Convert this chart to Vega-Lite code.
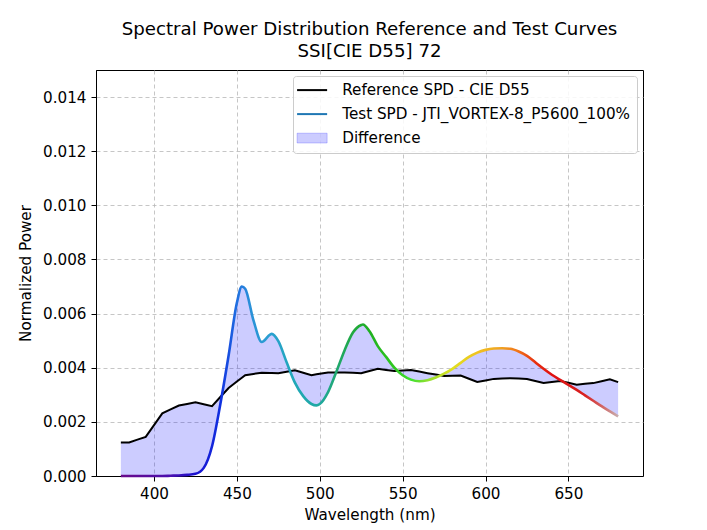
{
  "$schema": "https://vega.github.io/schema/vega-lite/v6.json",
  "width": 547,
  "height": 406,
  "autosize": {"type": "none"},
  "padding": {"left": 96, "top": 70, "right": 64, "bottom": 54},
  "background": "white",
  "title": {
    "text": ["Spectral Power Distribution Reference and Test Curves", "SSI[CIE D55] 72"],
    "font": "DejaVu Sans",
    "fontSize": 18.2,
    "fontWeight": "normal",
    "color": "black",
    "lineHeight": 22,
    "offset": 9,
    "anchor": "middle",
    "frame": "group"
  },
  "config": {
    "view": {"stroke": "black", "strokeWidth": 1},
    "axis": {
      "labelFont": "DejaVu Sans",
      "labelFontSize": 15.2,
      "labelColor": "black",
      "titleFont": "DejaVu Sans",
      "titleFontSize": 15.2,
      "titleFontWeight": "normal",
      "titleColor": "black",
      "tickColor": "black",
      "tickSize": 5,
      "tickWidth": 1,
      "domainColor": "black",
      "domainWidth": 1,
      "labelPadding": 5,
      "gridColor": "#b8b8b8",
      "gridDash": [4, 3],
      "gridWidth": 0.8
    },
    "legend": {
      "labelFont": "DejaVu Sans",
      "labelFontSize": 15.2,
      "labelColor": "black",
      "labelLimit": 400
    }
  },
  "data": {
    "values": [
      {"wl": 380, "ref": 0.001238, "test": 0.0},
      {"wl": 385, "ref": 0.001238, "test": 0.0},
      {"wl": 390, "ref": 0.001343, "test": 0.0},
      {"wl": 395, "ref": 0.001447, "test": 0.0},
      {"wl": 400, "ref": 0.001882, "test": 0.0},
      {"wl": 405, "ref": 0.002316, "test": 0.0},
      {"wl": 410, "ref": 0.002461, "test": 0.00001},
      {"wl": 415, "ref": 0.002605, "test": 0.00002},
      {"wl": 420, "ref": 0.002663, "test": 0.00004},
      {"wl": 425, "ref": 0.00272, "test": 0.00008},
      {"wl": 430, "ref": 0.002651, "test": 0.0003},
      {"wl": 435, "ref": 0.002581, "test": 0.0011},
      {"wl": 440, "ref": 0.002917, "test": 0.00265},
      {"wl": 445, "ref": 0.003253, "test": 0.00445},
      {"wl": 450, "ref": 0.003489, "test": 0.0064},
      {"wl": 453, "ref": 0.00363, "test": 0.007},
      {"wl": 455, "ref": 0.003724, "test": 0.00692},
      {"wl": 460, "ref": 0.003771, "test": 0.00575},
      {"wl": 465, "ref": 0.003817, "test": 0.00495},
      {"wl": 470, "ref": 0.003807, "test": 0.00522},
      {"wl": 471, "ref": 0.003805, "test": 0.00525},
      {"wl": 475, "ref": 0.003797, "test": 0.00498},
      {"wl": 480, "ref": 0.003851, "test": 0.0042},
      {"wl": 485, "ref": 0.003904, "test": 0.00345},
      {"wl": 490, "ref": 0.003816, "test": 0.00295},
      {"wl": 495, "ref": 0.003727, "test": 0.00266},
      {"wl": 498, "ref": 0.003757, "test": 0.00261},
      {"wl": 500, "ref": 0.003777, "test": 0.00266},
      {"wl": 505, "ref": 0.003826, "test": 0.0031},
      {"wl": 510, "ref": 0.003827, "test": 0.00385},
      {"wl": 515, "ref": 0.003827, "test": 0.00465},
      {"wl": 520, "ref": 0.003814, "test": 0.0053},
      {"wl": 525, "ref": 0.0038, "test": 0.00558},
      {"wl": 526, "ref": 0.003816, "test": 0.0056},
      {"wl": 530, "ref": 0.00388, "test": 0.00535},
      {"wl": 535, "ref": 0.00396, "test": 0.0048},
      {"wl": 540, "ref": 0.00392, "test": 0.0044},
      {"wl": 545, "ref": 0.00388, "test": 0.004},
      {"wl": 550, "ref": 0.003897, "test": 0.00372},
      {"wl": 555, "ref": 0.003913, "test": 0.00356},
      {"wl": 560, "ref": 0.003857, "test": 0.0035},
      {"wl": 565, "ref": 0.0038, "test": 0.00354},
      {"wl": 570, "ref": 0.003747, "test": 0.00364},
      {"wl": 575, "ref": 0.003694, "test": 0.00378},
      {"wl": 580, "ref": 0.003705, "test": 0.00396},
      {"wl": 585, "ref": 0.003715, "test": 0.00418},
      {"wl": 590, "ref": 0.003595, "test": 0.0044},
      {"wl": 595, "ref": 0.003474, "test": 0.00456},
      {"wl": 600, "ref": 0.003531, "test": 0.00466},
      {"wl": 605, "ref": 0.003588, "test": 0.00471},
      {"wl": 610, "ref": 0.003602, "test": 0.00472},
      {"wl": 615, "ref": 0.003615, "test": 0.0047},
      {"wl": 620, "ref": 0.003598, "test": 0.0046},
      {"wl": 625, "ref": 0.00358, "test": 0.00444},
      {"wl": 630, "ref": 0.003509, "test": 0.0042},
      {"wl": 635, "ref": 0.003437, "test": 0.00396},
      {"wl": 640, "ref": 0.003473, "test": 0.00374},
      {"wl": 645, "ref": 0.003509, "test": 0.00355},
      {"wl": 650, "ref": 0.003443, "test": 0.00337},
      {"wl": 655, "ref": 0.003376, "test": 0.00318},
      {"wl": 660, "ref": 0.003404, "test": 0.00298},
      {"wl": 665, "ref": 0.003432, "test": 0.00278},
      {"wl": 670, "ref": 0.003501, "test": 0.00258},
      {"wl": 675, "ref": 0.00357, "test": 0.00239},
      {"wl": 680, "ref": 0.00347, "test": 0.0022}
    ]
  },
  "encoding": {
    "x": {
      "field": "wl",
      "type": "quantitative",
      "scale": {"domain": [365, 695], "nice": false, "zero": false},
      "axis": {"values": [400, 450, 500, 550, 600, 650], "title": "Wavelength (nm)", "titlePadding": 6, "grid": true}
    }
  },
  "layer": [
    {
      "mark": {"type": "area", "interpolate": "monotone"},
      "encoding": {
        "y": {
          "field": "test",
          "type": "quantitative",
          "scale": {"domain": [0, 0.015], "nice": false},
          "axis": {"values": [0, 0.002, 0.004, 0.006, 0.008, 0.01, 0.012, 0.014], "format": ".3f", "title": "Normalized Power", "titlePadding": 9, "grid": true}
        },
        "y2": {"field": "ref"},
        "color": {
          "datum": "Difference",
          "scale": {
            "domain": ["Reference SPD - CIE D55", "Test SPD - JTI_VORTEX-8_P5600_100%", "Difference"],
            "range": ["black", "#1f77b4", "rgba(0,0,255,0.2)"]
          },
          "legend": {
            "title": null,
            "orient": "top-right",
            "offset": 6,
            "padding": 6.5,
            "rowPadding": 8,
            "symbolSize": 196,
            "labelOffset": 27.5,
            "fillColor": "rgba(255,255,255,0.85)",
            "strokeColor": "#cccccc",
            "cornerRadius": 3,
            "encode": {
              "symbols": {
                "update": {
                  "shape": {"signal": "datum.value === 'Difference' ? 'M-1.43,-0.7L2.86,-0.7L2.86,0.7L-1.43,0.7Z' : 'M-1.43,0L2.86,0'"},
                  "fill": {"signal": "datum.value === 'Difference' ? 'rgba(0,0,255,0.2)' : 'transparent'"},
                  "stroke": {"signal": "datum.value === 'Difference' ? 'rgba(0,0,255,0.2)' : (datum.value === 'Reference SPD - CIE D55' ? 'black' : '#1f77b4')"},
                  "strokeWidth": {"signal": "datum.value === 'Difference' ? 1 : 2"},
                  "opacity": {"value": 1}
                }
              }
            }
          }
        }
      }
    },
    {
      "mark": {"type": "line", "strokeWidth": 2},
      "encoding": {
        "y": {"field": "ref", "type": "quantitative"},
        "color": {"datum": "Reference SPD - CIE D55"}
      }
    },
    {
      "mark": {
        "type": "line",
        "interpolate": "monotone",
        "strokeWidth": 2.6,
        "stroke": {
          "gradient": "linear",
          "x1": 0, "y1": 0, "x2": 1, "y2": 0,
          "stops": [
            {"offset": 0.0, "color": "#6a0a8a"},
            {"offset": 0.1, "color": "#4a10b0"},
            {"offset": 0.15, "color": "#1a10d0"},
            {"offset": 0.2, "color": "#1030e0"},
            {"offset": 0.2333, "color": "#2070e0"},
            {"offset": 0.26, "color": "#2a90d8"},
            {"offset": 0.3, "color": "#2aa0d0"},
            {"offset": 0.35, "color": "#20a8b8"},
            {"offset": 0.4, "color": "#20a8a0"},
            {"offset": 0.4333, "color": "#20a870"},
            {"offset": 0.4667, "color": "#20a840"},
            {"offset": 0.5, "color": "#20b020"},
            {"offset": 0.55, "color": "#30c820"},
            {"offset": 0.5833, "color": "#40e030"},
            {"offset": 0.6167, "color": "#90e030"},
            {"offset": 0.6667, "color": "#e0e020"},
            {"offset": 0.72, "color": "#f0c020"},
            {"offset": 0.7667, "color": "#f0a020"},
            {"offset": 0.8, "color": "#f07018"},
            {"offset": 0.8333, "color": "#e83010"},
            {"offset": 0.8667, "color": "#e01010"},
            {"offset": 0.9333, "color": "#d82020"},
            {"offset": 0.9733, "color": "#d07070"},
            {"offset": 1.0, "color": "#c8b0b0"}
          ]
        }
      },
      "encoding": {
        "y": {"field": "test", "type": "quantitative"}
      }
    }
  ]
}
